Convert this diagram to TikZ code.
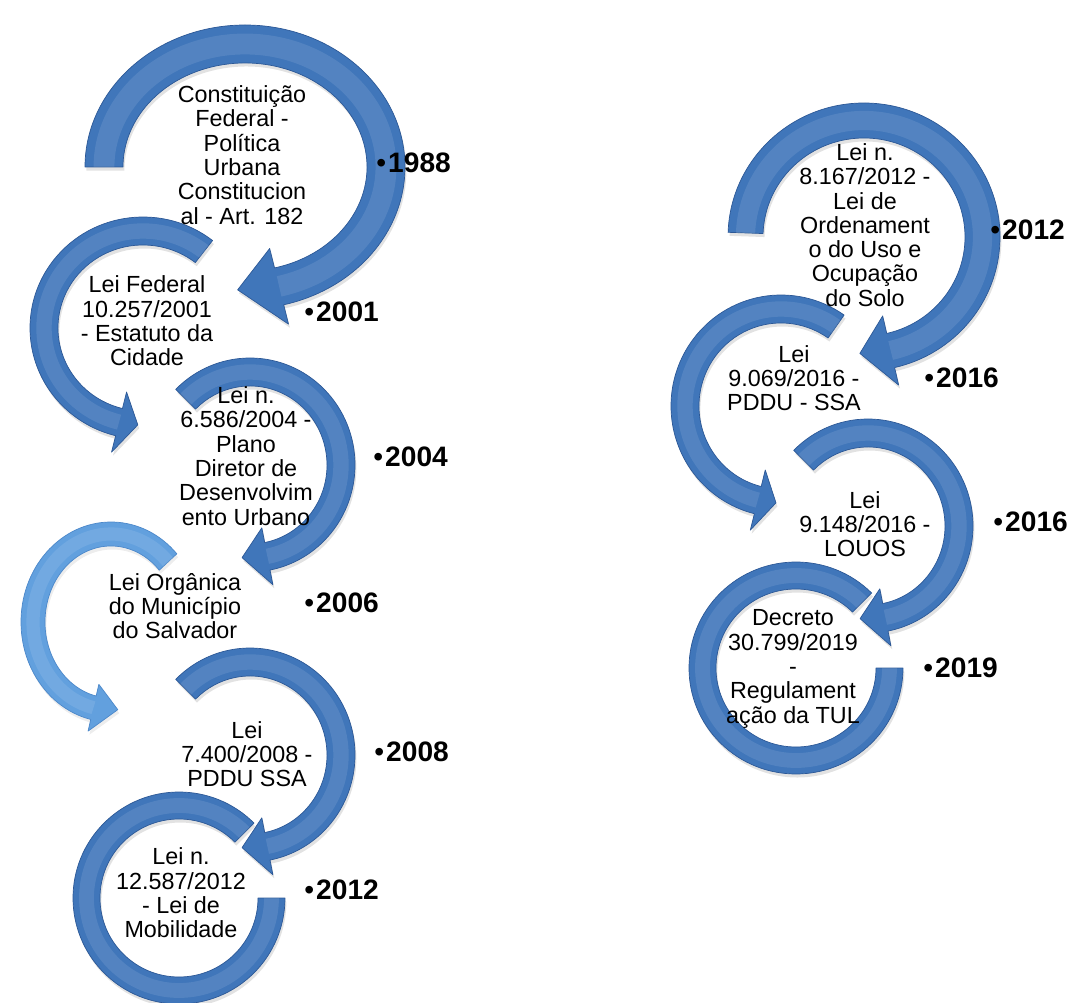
\documentclass[tikz,border=0pt]{standalone}
\usepackage{fontspec}
\setmainfont{Liberation Sans}
\definecolor{bandblue}{RGB}{64,118,186}
\definecolor{bandedge}{RGB}{44,88,150}
\definecolor{paleblue}{RGB}{98,160,222}
\definecolor{paleedge}{RGB}{76,136,202}
\tikzset{
  band/.style={fill=bandblue, draw=bandedge, line width=0.5pt, line join=round,
    preaction={fill=black!45, opacity=.25, transform canvas={shift={(1pt,-2.5pt)}}}},
  paleband/.style={fill=paleblue, draw=paleedge, line width=0.5pt, line join=round,
    preaction={fill=black!35, opacity=.2, transform canvas={shift={(1pt,-2.5pt)}}}},
  glow/.style={draw=white, opacity=.1, line cap=butt},
  lawtext/.style={align=center, inner sep=0pt, font=\fontsize{16.6}{17.3}\selectfont},
  yeartext/.style={anchor=west, inner sep=0pt, font=\fontsize{20}{24}\selectfont\bfseries},
  % start, end, tip angle, x radius, y radius, thickness, wing, style
  pics/circarrow/.style n args={8}{
    code={
      \pgfmathsetmacro\arInX{#4-#6}
      \pgfmathsetmacro\arInY{#5-#6}
      \pgfmathsetmacro\arMidX{#4-#6/2}
      \pgfmathsetmacro\arMidY{#5-#6/2}
      \pgfmathsetmacro\arOutWX{#4+#7}
      \pgfmathsetmacro\arOutWY{#5+#7}
      \pgfmathsetmacro\arInWX{#4-#6-#7}
      \pgfmathsetmacro\arInWY{#5-#6-#7}
      \pgfmathsetmacro\arGlowW{#6*0.709*0.55}
      \path[#8] (xyz polar cs:angle=#1, x radius=#4, y radius=#5)
        arc[start angle=#1, end angle=#2, x radius=#4, y radius=#5]
        -- (xyz polar cs:angle=#2, x radius=\arOutWX, y radius=\arOutWY)
        -- (xyz polar cs:angle=#3, x radius=\arMidX, y radius=\arMidY)
        -- (xyz polar cs:angle=#2, x radius=\arInWX, y radius=\arInWY)
        -- (xyz polar cs:angle=#2, x radius=\arInX, y radius=\arInY)
        arc[start angle=#2, end angle=#1, x radius=\arInX, y radius=\arInY]
        -- cycle;
      \draw[glow, line width=\arGlowW pt]
        (xyz polar cs:angle=#1, x radius=\arMidX, y radius=\arMidY)
        arc[start angle=#1, end angle=#2, x radius=\arMidX, y radius=\arMidY];
    }
  }
}
\begin{document}
\begin{tikzpicture}[x=0.025cm, y=0.025cm]
\useasboundingbox (0,0) rectangle (1072,-1003);

% left column
\pic at (245,-167) {circarrow={180}{-76}{-93}{160}{142}{38}{20}{band}};
\pic at (143,-328) {circarrow={52}{256}{267}{113}{111}{28}{17}{band}};
\pic at (250,-465) {circarrow={135}{-79}{-95}{105}{107}{28}{15}{band}};
\pic at (111,-622) {circarrow={43}{257}{275}{90}{100}{24}{12}{paleband}};
\pic at (250,-755) {circarrow={135}{-79}{-95}{105}{107}{28}{15}{band}};
\pic at (179,-898) {circarrow={45}{360}{360}{106}{106}{27}{0}{band}};

% right column
\pic at (864,-237) {circarrow={178}{-77}{-92}{136}{134}{35}{18}{band}};
\pic at (781,-406) {circarrow={55}{256}{267}{110}{111}{28}{17}{band}};
\pic at (868,-526) {circarrow={135}{-79}{-95}{105}{107}{28}{15}{band}};
\pic at (796,-668) {circarrow={45}{360}{360}{107}{106}{27}{0}{band}};

% texts
\node[lawtext] (lei1988) at (242,-155) {Constituição\\Federal -\\Política\\Urbana\\Constitucion\\al - Art. 182};
\node[lawtext] (lei2001) at (147,-321) {Lei Federal\\10.257/2001\\- Estatuto da\\Cidade};
\node[lawtext] (lei2004) at (246,-456) {Lei n.\\6.586/2004 -\\Plano\\Diretor de\\Desenvolvim\\ento Urbano};
\node[lawtext] (lei2006) at (175,-606) {Lei Orgânica\\do Município\\do Salvador};
\node[lawtext] (lei2008) at (247,-754) {Lei\\7.400/2008 -\\PDDU SSA};
\node[lawtext] (lei2012a) at (181,-893) {Lei n.\\12.587/2012\\- Lei de\\Mobilidade};
\node[lawtext] (lei2012b) at (865,-225) {Lei n.\\8.167/2012 -\\Lei de\\Ordenament\\o do Uso e\\Ocupação\\do Solo};
\node[lawtext] (lei2016a) at (794,-378) {Lei\\9.069/2016 -\\PDDU - SSA};
\node[lawtext] (lei2016b) at (865,-524) {Lei\\9.148/2016 -\\LOUOS};
\node[lawtext] (lei2019) at (793,-669) {Decreto\\30.799/2019\\-\\Regulament\\ação da TUL};

% years
\newcommand\yr[1]{{\mdseries •}\hspace{1.5pt}#1}
\node[yeartext] (y1988) at (376,-163) {\yr{1988}};
\node[yeartext] (y2001) at (304,-312) {\yr{2001}};
\node[yeartext] (y2004) at (373,-457) {\yr{2004}};
\node[yeartext] (y2006) at (304,-603) {\yr{2006}};
\node[yeartext] (y2008) at (374,-752) {\yr{2008}};
\node[yeartext] (y2012a) at (304,-890) {\yr{2012}};
\node[yeartext] (y2012b) at (990,-230) {\yr{2012}};
\node[yeartext] (y2016a) at (924,-378) {\yr{2016}};
\node[yeartext] (y2016b) at (993,-522) {\yr{2016}};
\node[yeartext] (y2019) at (923,-668) {\yr{2019}};
\end{tikzpicture}
\end{document}
